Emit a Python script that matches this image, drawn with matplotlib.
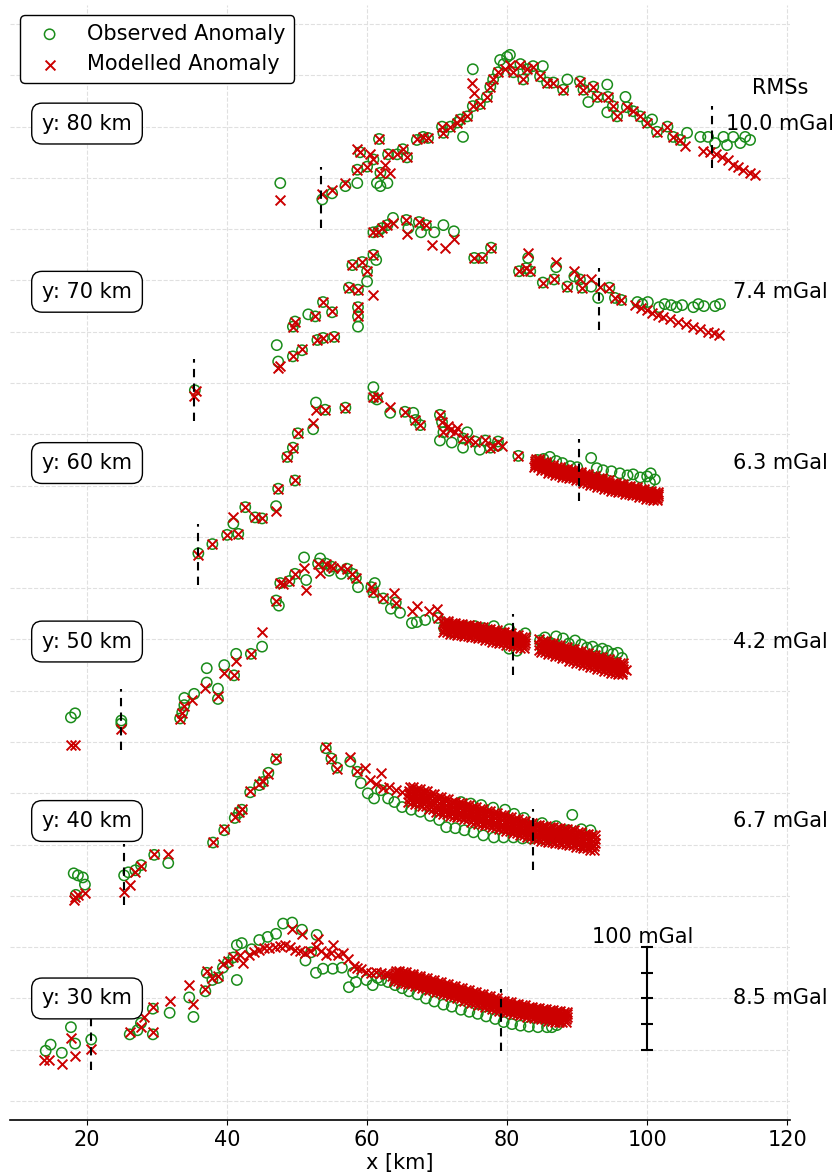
import numpy as np
import matplotlib.pyplot as plt

# profile lines (y position in km), plot offsets and fit errors
profiles_km = [30, 40, 50, 60, 70, 80]
offsets = [100, 273, 448, 622, 789, 953]
rms_values = [8.5, 6.7, 4.2, 6.3, 7.4, 10.0]
xticks = [20, 40, 60, 80, 100, 120]

# (x [km], anomaly [mGal]), relative to each profile offset
obs_30 = [(14.1, -51), (14.8, -45), (16.4, -53), (17.7, -28), (18.3, -44), (20.6, -40),
          (26.1, -35), (27.2, -31), (27.7, -24), (29.4, -10), (29.4, -35), (31.8, -14),
          (34.6, 1), (35.2, -18), (36.9, 7), (37.1, 25), (37.9, 18), (38.7, 20), (39.4, 30),
          (40.1, 35), (40.9, 40), (41.4, 18), (41.4, 52), (42.1, 54), (43.5, 48),
          (44.6, 57), (45.8, 60), (47.0, 63), (48.0, 73), (49.3, 74), (50.7, 67), (51.2, 37),
          (52.0, 45), (52.7, 25), (52.8, 62), (53.7, 29), (55.1, 29), (56.4, 30), (57.4, 11),
          (58.0, 25), (58.4, 16), (59.9, 18), (60.8, 13), (61.5, 20), (62.0, 18), (63.0, 16),
          (64.0, 13), (65.0, 10), (66.0, 7), (67.2, 4), (68.4, 0), (69.6, -3), (70.9, -6),
          (72.1, -8), (73.4, -11), (74.6, -13), (75.8, -15), (77.0, -17.5), (78.3, -20),
          (79.5, -23), (80.7, -25), (81.9, -26.5), (83.1, -27.5), (84.4, -28), (85.7, -28),
          (86.4, -28), (87.1, -26), (87.9, -20)]
mod_30 = [(13.8, -60), (14.6, -60), (16.4, -64), (17.7, -39), (18.3, -56), (20.6, -49),
          (26.1, -33), (27.7, -28), (28.1, -18), (29.4, -8), (29.4, -33), (31.8, -2),
          (34.6, 13), (35.2, -5), (36.9, 9), (37.1, 27), (37.9, 20), (38.7, 22), (39.4, 34),
          (40.1, 37), (40.9, 40), (41.9, 42), (42.3, 35), (43.2, 42), (43.9, 45), (44.6, 47),
          (45.3, 49), (46.0, 49), (46.8, 50), (47.5, 51), (48.3, 52), (49.0, 50), (49.3, 68),
          (49.7, 47), (50.4, 46), (50.7, 63), (51.2, 44), (51.9, 46), (52.7, 50), (53.0, 58),
          (53.4, 46), (54.1, 42), (54.8, 44), (55.1, 52), (55.8, 42), (56.6, 44), (57.3, 38),
          (58.1, 32), (58.6, 30), (59.1, 29), (59.8, 26), (60.6, 25), (61.3, 26), (62.0, 25),
          (62.5, 24), (63.0, 24), (63.5, 22)]
# densely packed model stations: band centre line and its half thickness
band_x_30 = [64, 65, 66, 67, 68, 69, 70, 71, 72, 73, 74, 75, 76, 77, 78, 79, 80, 81, 82,
             83, 84, 85, 86, 87, 88]
band_c_30 = [22, 20.5, 19, 17, 15, 13, 11, 9, 7, 5, 3, 1, -1, -3, -5, -7, -8.5, -10, -11.5,
             -13, -14.5, -15.5, -16.5, -17.5, -18]

obs_40 = [(18.1, -51), (18.7, -53), (19.4, -55), (19.7, -62), (18.4, -72),
          (25.3, -53), (25.9, -50), (26.9, -48), (27.7, -43), (29.6, -33), (31.6, -41),
          (38.0, -21), (39.6, -9), (41.1, 3), (41.7, 8), (42.1, 11), (43.3, 28), (44.6, 35),
          (45.1, 38), (45.9, 47), (47.0, 60),
          (54.1, 71), (54.9, 61), (55.7, 52), (57.6, 58), (58.6, 48), (59.1, 37), (60.1, 27),
          (61.0, 22), (62.0, 30), (63.0, 22), (63.9, 18.5), (65.0, 13.6), (66.3, 11),
          (67.6, 9), (69.0, 5), (70.3, 1), (71.3, -6), (72.6, -7), (73.9, -9), (75.2, -11),
          (76.6, -14), (78.1, -16), (79.5, -16), (80.9, -16), (82.2, -17), (83.4, -17),
          (84.8, -17), (86.1, -16), (87.4, -13), (88.7, -9), (89.3, 6), (90.6, -8),
          (91.9, -9), (73.4, 18.5), (74.8, 17), (76.3, 15.6), (78.0, 13), (79.7, 11),
          (81.0, 7), (82.4, 3), (85.0, -2), (87.0, -5)]
mod_40 = [(18.1, -77), (18.7, -72), (19.7, -70), (18.3, -74),
          (25.3, -69), (26.1, -62), (26.9, -50), (27.7, -44), (29.6, -32), (31.6, -32),
          (38.0, -20), (39.6, -8), (41.1, 4), (41.7, 9), (42.1, 12), (43.3, 29), (44.6, 36),
          (45.1, 39), (45.9, 46), (47.0, 61),
          (54.1, 72), (54.9, 60), (55.7, 51), (57.6, 62), (58.6, 49), (59.7, 52), (60.4, 40),
          (61.3, 36), (62.0, 47), (62.3, 32), (63.2, 33), (64.1, 30), (65.0, 28)]
band_x_40 = [66, 67, 68, 69, 70, 71, 72, 73, 74, 75, 76, 77, 78, 79, 80, 81, 82, 83, 84,
             85, 86, 87, 88, 89, 90, 91, 92]
band_c_40 = [26, 24, 22, 19, 16, 14, 12, 10.7, 8.5, 6.5, 4.5, 3, 1, -1, -3, -5, -7, -9,
             -10.5, -12, -13, -14, -15, -16, -18, -19.5, -21]

obs_50 = [(17.7, -74), (18.3, -70), (24.9, -77), (24.9, -80),
          (33.3, -75), (33.6, -69), (33.9, -62), (33.9, -55), (35.3, -51), (37.1, -26),
          (37.1, -40), (38.7, -46), (38.7, -56), (39.6, -23), (41.0, -33), (41.3, -12),
          (43.4, -12), (45.0, -5),
          (47.0, 40), (47.4, 35), (47.6, 57), (48.9, 59), (49.7, 66), (51.0, 82), (51.3, 60),
          (53.0, 76), (53.3, 81), (54.1, 76), (54.6, 69), (54.9, 73), (56.3, 66), (57.1, 71),
          (57.9, 66), (58.4, 62), (58.7, 53), (60.6, 53), (61.1, 57), (60.9, 48), (62.3, 42),
          (63.4, 32), (64.1, 38), (64.7, 28), (66.4, 18), (67.1, 19), (68.3, 21), (70.1, 23),
          (71.0, 13), (72.1, 9), (73.0, 14), (74.2, 14), (75.4, 15), (76.6, 13), (77.5, 10),
          (78.1, 15), (79.2, 8), (80.3, 12), (80.3, -7), (81.4, -9), (81.9, 0), (82.6, 8),
          (84.7, 1), (85.4, 4), (86.1, -1), (87.0, 5), (88.0, 3), (88.8, -2), (89.7, 1),
          (90.6, -3), (91.4, -6), (92.2, -5), (92.9, -9), (93.6, -7), (94.3, -9), (95.1, -12),
          (95.8, -11), (96.4, -16), (85.0, -6), (87.5, -7)]
mod_50 = [(17.7, -101), (18.3, -101), (24.9, -85),
          (33.3, -76), (33.6, -70), (33.9, -63), (35.0, -57), (36.9, -45), (38.7, -53),
          (39.6, -31), (41.0, -33), (41.3, -19), (43.4, -12), (45.0, 9),
          (47.0, 40), (47.6, 57), (48.0, 56), (48.9, 59), (49.7, 66), (51.0, 72), (51.3, 50),
          (53.0, 76), (53.3, 67), (54.1, 76), (54.9, 74), (55.1, 72), (56.3, 72), (57.1, 71),
          (57.9, 66), (58.4, 62), (60.6, 53), (60.9, 48), (62.3, 42), (63.9, 47), (64.1, 38),
          (66.4, 30), (67.1, 35), (68.9, 30), (70.0, 32), (70.1, 23), (84.5, 2), (84.5, -3),
          (84.5, -8), (97.0, -28)]
band_x_50 = [71, 72, 73, 74, 75, 76, 77, 78, 79, 80, 81, 82,
             85, 86, 87, 88, 89, 90, 91, 92, 93, 94, 95, 96]
band_c_50 = [15, 13, 12, 11, 10, 8.5, 7, 5.5, 4, 2.5, 1, -1,
             -5, -7, -9, -11, -13, -15, -17, -19, -21, -23, -25, -26.5]

obs_60 = [(35.9, -88), (37.9, -79), (40.0, -70), (41.6, -69), (40.9, -59), (42.6, -43),
          (44.0, -53), (45.0, -54), (47.0, -42), (47.3, -25), (49.7, -17), (48.6, 6),
          (49.4, 15), (50.1, 29), (52.3, 33), (52.7, 59), (54.0, 52), (56.9, 54),
          (60.9, 74), (60.9, 64), (61.4, 62), (63.3, 49), (65.4, 50), (66.6, 49), (66.9, 42),
          (67.6, 37), (70.4, 47), (70.7, 40), (70.9, 30), (70.4, 22), (72.1, 20), (73.7, 24),
          (73.7, 15), (74.3, 30), (75.4, 21), (76.1, 13), (76.9, 22), (77.6, 15), (78.7, 21),
          (78.7, 17), (81.6, 7),
          (84.3, 3), (85.2, 4), (86.1, 6), (87.0, 2), (87.9, 0), (89.0, -3), (90.0, -4),
          (92.0, 5), (92.8, -5), (93.7, -7), (94.9, -8), (96.1, -10), (97.2, -12), (98.0, -11),
          (99.0, -14), (100.0, -13), (100.4, -19), (101.1, -16), (100.5, -10)]
mod_60 = [(35.9, -90), (37.9, -79), (40.0, -70), (41.6, -69), (40.9, -53), (42.6, -43),
          (44.0, -53), (45.0, -54), (47.0, -47), (47.3, -25), (49.7, -17), (48.6, 6),
          (49.4, 15), (50.1, 29), (52.3, 39), (52.7, 52), (54.0, 52), (56.9, 54),
          (60.9, 64), (61.6, 64), (63.3, 55), (65.4, 50), (66.9, 42), (67.6, 37),
          (70.4, 47), (70.7, 40), (70.9, 30), (71.5, 36), (71.9, 32), (72.5, 30), (72.9, 34),
          (73.7, 24), (74.5, 22), (75.4, 21), (76.9, 22), (77.6, 15), (78.0, 17), (78.7, 21),
          (79.2, 17), (81.6, 7)]
band_x_60 = [84, 85, 86, 87, 88, 89, 90, 91, 92, 93, 94, 95, 96, 97, 98, 99, 100, 101]
band_c_60 = [0, -3, -6, -8, -9.5, -11, -13, -15, -17, -19, -21, -23, -24.5, -26, -27.5,
             -29, -31, -32.5]

# half thickness of the dense model bands [mGal]
band_w = [5, 7, 5.5, 4]

obs_70 = [(35.4, -96), (47.1, -52), (47.3, -68), (49.4, -63), (50.7, -57), (52.9, -47),
          (53.7, -45), (55.3, -44), (49.4, -34), (49.7, -29), (51.6, -22), (52.6, -24),
          (53.7, -10), (55.0, -20),
          (57.4, 4), (58.7, 2), (57.9, 26), (59.3, 29), (60.0, 20), (60.0, 10), (60.9, 36),
          (61.3, 31), (58.7, -15), (58.7, -24), (58.7, -34),
          (60.9, 58), (61.6, 59), (62.1, 62), (62.9, 65), (63.7, 72), (65.6, 70), (65.9, 62),
          (67.4, 68), (67.7, 58), (68.4, 65), (69.6, 58), (70.9, 65), (72.4, 59),
          (75.3, 33), (76.4, 33), (77.7, 43),
          (81.7, 20), (82.7, 23), (83.0, 33), (83.3, 20), (85.1, 9), (86.7, 12), (87.0, 24),
          (88.6, 5), (89.6, 15), (90.4, 12), (90.7, 4), (92.0, 5), (93.0, -6), (94.6, 4),
          (95.4, -6), (96.3, -8), (98.6, -10),
          (99.3, -12), (100.1, -10), (101.7, -15), (102.5, -12), (103.4, -13), (104.2, -15),
          (105.0, -13), (106.6, -15), (107.3, -12), (108.1, -14), (109.7, -14), (110.4, -12)]
mod_70 = [(35.3, -102), (35.5, -97), (47.3, -74), (47.5, -72), (49.4, -63), (50.7, -56),
          (52.9, -47), (53.7, -45), (55.3, -44), (49.4, -34), (49.7, -29), (52.6, -24),
          (53.7, -10), (55.0, -19),
          (57.4, 4), (58.7, 2), (57.9, 26), (59.3, 29), (60.0, 20), (60.9, 36), (60.9, -3),
          (58.7, -15), (58.7, -24),
          (60.9, 58), (61.6, 58), (62.1, 62), (62.9, 65), (63.7, 67), (65.6, 70), (65.7, 56),
          (67.4, 68), (68.4, 65), (69.3, 46), (71.1, 43), (72.4, 51),
          (75.3, 33), (76.4, 33), (77.7, 43),
          (81.7, 20), (82.7, 23), (83.0, 38), (83.3, 20), (85.1, 9), (86.7, 12), (87.0, 29),
          (88.6, 5), (89.6, 20), (90.4, 12), (90.7, 4), (92.0, 12), (93.3, 5), (94.6, 4),
          (95.4, -6), (96.3, -8), (98.3, -13),
          (99.1, -16), (100.0, -18), (100.7, -21), (101.5, -23), (102.3, -25), (103.3, -27),
          (104.4, -29), (105.5, -31), (106.6, -34), (107.6, -36), (108.7, -39), (109.5, -40),
          (110.3, -42)]

obs_80 = [(47.6, -58), (53.6, -74), (55.0, -68), (56.9, -61), (58.6, -58), (58.6, -45),
          (59.0, -28), (60.0, -42), (60.9, -35), (61.4, -58), (61.9, -48), (61.9, -61),
          (62.9, -58), (63.0, -30), (64.3, -30), (65.1, -25), (65.7, -33), (61.7, -15),
          (67.1, -16), (68.0, -13), (68.7, -14), (70.7, -3), (70.9, -9), (71.9, -3), (72.9, 1),
          (73.3, 4), (73.7, -13), (74.3, 7), (75.1, 17), (75.1, 53), (76.1, 19), (77.1, 26),
          (77.6, 36), (78.0, 43), (78.7, 50), (79.0, 62), (80.0, 65), (80.4, 67), (79.5, 58),
          (80.9, 50), (81.9, 58), (82.3, 43), (82.9, 53), (83.7, 56), (84.7, 46), (85.1, 56),
          (85.7, 40), (86.6, 40), (88.0, 33), (88.6, 43), (90.4, 41), (90.9, 33), (91.6, 21),
          (92.3, 36), (92.9, 26), (94.3, 38), (94.4, 26), (95.1, 17), (94.3, 11), (95.7, 7),
          (96.9, 26), (97.1, 16), (98.0, 12), (99.0, 7), (100.0, 1), (100.7, 4), (101.4, -8),
          (102.9, -3), (103.7, -13), (104.7, -16), (105.7, -9),
          (107.6, -13), (108.7, -13), (109.7, -19), (110.9, -13), (111.4, -21), (112.3, -13),
          (113.3, -19), (114.0, -13), (114.7, -16)]
mod_80 = [(47.6, -75), (53.6, -69), (55.0, -65), (56.9, -58), (58.6, -25), (59.0, -28),
          (58.6, -45), (60.0, -42), (60.9, -35), (61.9, -48), (63.3, -48), (63.0, -30),
          (64.3, -30), (65.1, -25), (65.7, -33), (61.7, -15), (60.4, -30), (62.5, -40),
          (67.1, -15), (68.0, -13), (68.7, -14), (70.7, -3), (70.9, -9), (71.9, -3), (72.9, 1),
          (73.3, 4), (74.3, 7), (75.1, 17), (75.0, 40), (75.3, 30), (76.1, 19), (77.1, 26),
          (77.6, 36), (78.0, 43), (78.7, 50), (79.7, 53), (80.4, 57),
          (80.9, 50), (81.9, 57), (82.3, 43), (82.9, 53), (83.7, 55), (84.7, 46), (85.7, 40),
          (86.6, 40), (88.0, 33), (90.4, 41), (90.9, 33), (92.3, 36), (92.9, 26), (94.4, 26),
          (95.1, 17), (95.7, 7), (97.1, 16), (98.0, 12), (99.0, 7), (100.0, 1), (101.4, -8),
          (102.9, -3), (103.7, -13), (104.7, -16), (105.4, -22),
          (108.0, -27), (109.0, -28), (109.8, -30), (110.7, -33), (111.5, -36), (112.3, -40),
          (113.0, -42), (113.7, -45), (114.7, -48), (115.4, -50)]

# dashed marks (x, anomaly) on each profile
marks_30 = [(20.6, -40), (79.1, -21)]
marks_40 = [(25.3, -52), (83.7, -18)]
marks_50 = [(24.9, -76), (80.9, -3)]
marks_60 = [(35.9, -89), (90.3, -7)]
marks_70 = [(35.3, -96), (93.1, -7)]
marks_80 = [(53.4, -72), (109.3, -13)]

# 100 mGal scale bar
scale_x = 100
scale_ticks = [50, 75, 100, 125, 150]

obs_all = [obs_30, obs_40, obs_50, obs_60, obs_70, obs_80]
mod_all = [mod_30, mod_40, mod_50, mod_60, mod_70, mod_80]
marks_all = [marks_30, marks_40, marks_50, marks_60, marks_70, marks_80]
bands_x = [band_x_30, band_x_40, band_x_50, band_x_60]
bands_c = [band_c_30, band_c_40, band_c_50, band_c_60]

green = '#1a8c1a'
red = '#cc0000'
fs = 15

fig = plt.figure(figsize=(8.39, 11.73), dpi=100)
ax = fig.add_axes([10 / 839, 53 / 1173, 780 / 839, 1115 / 1173])

for i, yk in enumerate(profiles_km):
    off = offsets[i]
    ox = [p[0] for p in obs_all[i]]
    oy = [p[1] + off for p in obs_all[i]]
    mx = [p[0] for p in mod_all[i]]
    my = [p[1] + off for p in mod_all[i]]
    if i < len(bands_x):
        w = band_w[i]
        for x, c in zip(bands_x[i], bands_c[i]):
            for dx in (0.0, 0.5):
                for f in (-1.0, -0.5, 0.0, 0.5, 1.0):
                    mx.append(x + dx + 0.1 * f)
                    my.append(c + off + f * w)
    ax.scatter(ox, oy, s=55, marker='o', facecolors='none', edgecolors=green,
               linewidths=1.1, zorder=3, label='Observed Anomaly' if i == 0 else None)
    ax.scatter(mx, my, s=50, marker='x', color=red, linewidths=1.4, zorder=4,
               label='Modelled Anomaly' if i == 0 else None)
    for x, a in marks_all[i]:
        ax.plot([x, x], [a + off - 30, a + off + 30], color='black', ls='--', lw=1.5,
                dashes=(4, 3), zorder=5)
    ax.text(20, off, f'y: {yk} km', ha='center', va='center', fontsize=fs, zorder=7,
            bbox=dict(boxstyle='round,pad=0.5', fc='white', ec='black', lw=1))
    ax.text(119, off, f'{rms_values[i]:.1f} mGal', ha='center', va='center', fontsize=fs)

ax.text(119, offsets[-1] + 35, 'RMSs', ha='center', va='center', fontsize=fs)

ax.plot([scale_x] * len(scale_ticks), scale_ticks, color='black', lw=1.5, marker='_',
        markersize=9, mew=1.5, zorder=5)
ax.text(99.3, 160, '100 mGal', ha='center', va='center', fontsize=fs)

ax.set_xlim(9, 120.4)
ax.set_ylim(-18.5, 1068.6)
ax.set_xticks(xticks)
ax.set_yticks(np.arange(0, 1051, 50))
ax.tick_params(axis='y', length=0, labelleft=False)
ax.tick_params(axis='x', labelsize=fs, labelcolor='black', color='black')
ax.set_xlabel('x [km]', fontsize=fs, labelpad=2, color='black')
for s in ['top', 'left', 'right']:
    ax.spines[s].set_visible(False)
ax.spines['bottom'].set_linewidth(1.2)
ax.grid(True, color='0.88', ls='--', lw=0.8)
ax.set_axisbelow(True)

leg = ax.legend(loc='upper left', fontsize=fs, framealpha=1, edgecolor='black',
                scatterpoints=1)
leg.get_frame().set_linewidth(1)

fig.savefig('out.png', dpi=100)
